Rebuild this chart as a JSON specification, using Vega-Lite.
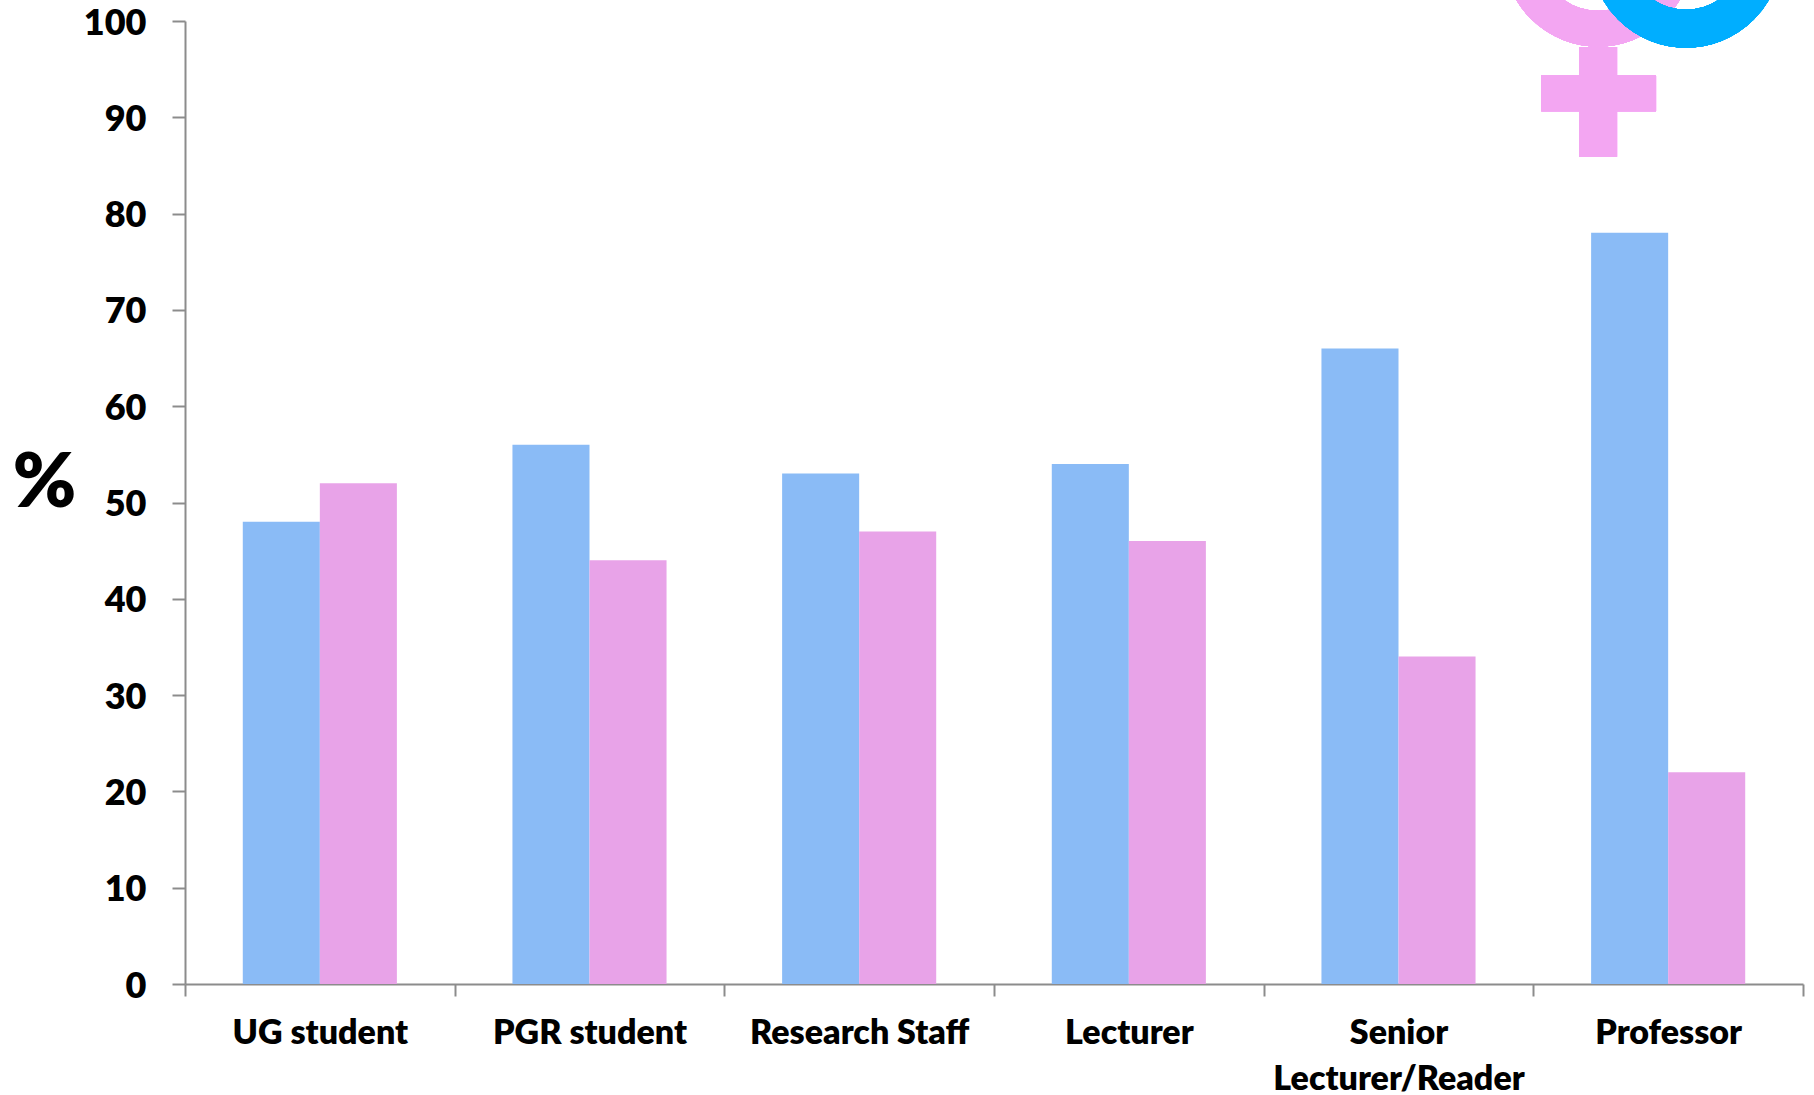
{
  "$schema": "https://vega.github.io/schema/vega-lite/v6.json",
  "width": 1618,
  "height": 963,
  "autosize": {"type": "none"},
  "padding": {"left": 185, "top": 21, "right": 11, "bottom": 111},
  "background": "white",
  "config": {"view": {"stroke": null}, "font": "Lato"},
  "data": {
    "values": [
      {"grade": "UG student", "gender": "Male", "percent": 48},
      {"grade": "UG student", "gender": "Female", "percent": 52},
      {"grade": "PGR student", "gender": "Male", "percent": 56},
      {"grade": "PGR student", "gender": "Female", "percent": 44},
      {"grade": "Research Staff", "gender": "Male", "percent": 53},
      {"grade": "Research Staff", "gender": "Female", "percent": 47},
      {"grade": "Lecturer", "gender": "Male", "percent": 54},
      {"grade": "Lecturer", "gender": "Female", "percent": 46},
      {"grade": "Senior Lecturer/Reader", "gender": "Male", "percent": 66},
      {"grade": "Senior Lecturer/Reader", "gender": "Female", "percent": 34},
      {"grade": "Professor", "gender": "Male", "percent": 78},
      {"grade": "Professor", "gender": "Female", "percent": 22}
    ]
  },
  "resolve": {"scale": {"x": "independent"}},
  "layer": [
    {
      "mark": {"type": "bar", "clip": false},
      "encoding": {
        "x": {
          "field": "grade",
          "type": "nominal",
          "sort": null,
          "scale": {"paddingInner": 0, "paddingOuter": 0},
          "axis": {
            "title": null,
            "labelAngle": 0,
            "labelAlign": "center",
            "labelBaseline": "top",
            "labelFont": "Lato",
            "labelFontWeight": 800,
            "labelFontSize": 34,
            "labelColor": "#000000",
            "labelPadding": 20,
            "labelLineHeight": 46,
            "labelLimit": 0,
            "labelOverlap": false,
            "labelExpr": "datum.value == 'Senior Lecturer/Reader' ? ['Senior', 'Lecturer/Reader'] : datum.value",
            "tickBand": "extent",
            "tickSize": 12,
            "tickWidth": 2,
            "tickColor": "#8c8c8c",
            "domainColor": "#8c8c8c",
            "domainWidth": 2,
            "grid": false
          }
        },
        "xOffset": {
          "field": "gender",
          "type": "nominal",
          "sort": ["Male", "Female"],
          "scale": {"paddingInner": 0, "paddingOuter": 0.75}
        },
        "y": {
          "field": "percent",
          "type": "quantitative",
          "scale": {"domain": [0, 100]},
          "axis": {
            "title": "%",
            "titleAngle": 0,
            "titleFont": "Lato",
            "titleFontWeight": 800,
            "titleFontSize": 76,
            "titleColor": "#000000",
            "titleAlign": "center",
            "titleBaseline": "middle",
            "titleX": -141,
            "titleY": 462,
            "values": [0, 10, 20, 30, 40, 50, 60, 70, 80, 90, 100],
            "labelFont": "Lato",
            "labelFontWeight": 800,
            "labelFontSize": 36,
            "labelColor": "#000000",
            "labelPadding": 26,
            "labelOffset": 2,
            "labelBound": false,
            "tickSize": 13,
            "tickWidth": 2,
            "tickColor": "#8c8c8c",
            "domainColor": "#8c8c8c",
            "domainWidth": 2,
            "grid": false
          }
        },
        "color": {
          "field": "gender",
          "type": "nominal",
          "legend": null,
          "scale": {"domain": ["Male", "Female"], "range": ["#8abbf6", "#e8a3e8"]}
        }
      }
    },
    {
      "mark": {"type": "point", "filled": false, "shape": "circle", "size": 23716, "strokeWidth": 36, "stroke": "#f3a6f2", "opacity": 1},
      "encoding": {
        "x": {"datum": 5.24, "type": "quantitative", "scale": {"domain": [0, 6]}, "axis": null},
        "y": {"datum": 107.2, "type": "quantitative"}
      }
    },
    {
      "mark": {"type": "rule", "stroke": "#f3a6f2", "strokeWidth": 38},
      "encoding": {
        "x": {"datum": 5.24, "type": "quantitative", "scale": {"domain": [0, 6]}, "axis": null},
        "y": {"datum": 97.3, "type": "quantitative"},
        "y2": {"datum": 85.9}
      }
    },
    {
      "mark": {"type": "rule", "stroke": "#f3a6f2", "strokeWidth": 36},
      "encoding": {
        "x": {"datum": 5.03, "type": "quantitative", "scale": {"domain": [0, 6]}, "axis": null},
        "x2": {"datum": 5.455},
        "y": {"datum": 92.5, "type": "quantitative"}
      }
    },
    {
      "mark": {"type": "point", "filled": false, "shape": "circle", "size": 23716, "strokeWidth": 38, "stroke": "#00aeff", "opacity": 1},
      "encoding": {
        "x": {"datum": 5.566, "type": "quantitative", "scale": {"domain": [0, 6]}, "axis": null},
        "y": {"datum": 107.2, "type": "quantitative"}
      }
    }
  ]
}
